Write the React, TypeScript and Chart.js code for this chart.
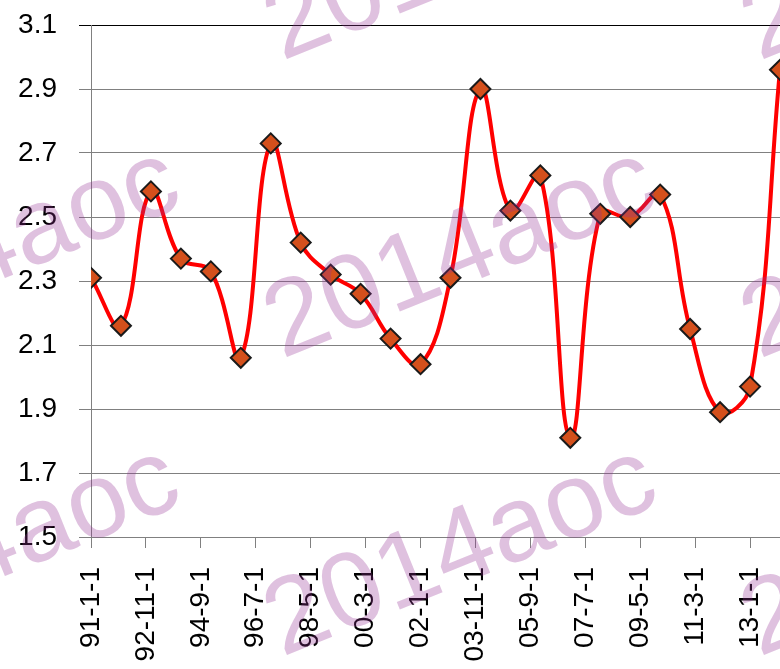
import React, { useEffect, useRef } from 'react';
import { Chart, registerables } from 'chart.js';

Chart.register(...registerables);

// ---- data ----
const years = [1991, 1992, 1993, 1994, 1995, 1996, 1997, 1998, 1999, 2000, 2001, 2002, 2003, 2004, 2005, 2006, 2007, 2008, 2009, 2010, 2011, 2012, 2013, 2014];
const values = [2.31, 2.16, 2.58, 2.37, 2.33, 2.06, 2.73, 2.42, 2.32, 2.26, 2.12, 2.04, 2.31, 2.9, 2.52, 2.63, 1.81, 2.51, 2.5, 2.57, 2.15, 1.89, 1.97, 2.96];
const xTickLabels = ['91-1-1', '92-11-1', '94-9-1', '96-7-1', '98-5-1', '00-3-1', '02-1-1', '03-11-1', '05-9-1', '07-7-1', '09-5-1', '11-3-1', '13-1-1'];
const yTicks = [1.5, 1.7, 1.9, 2.1, 2.3, 2.5, 2.7, 2.9, 3.1];
const watermarkText = '2014aoc';

const BASE_YEAR = 1991;
const FONT = '"Liberation Sans", Arial, sans-serif';

function labelToMonths(label: string): number {
  const [yy, m] = label.split('-').map(Number);
  const year = yy < 50 ? 2000 + yy : 1900 + yy;
  return (year - BASE_YEAR) * 12 + (m - 1);
}

const tickMonths = xTickLabels.map(labelToMonths);
const points = years.map((y, i) => ({ x: (y - BASE_YEAR) * 12, y: values[i] }));

const watermarkPlugin = {
  id: 'watermark',
  afterDraw(chart: any) {
    const ctx = chart.ctx;
    ctx.save();
    ctx.font = `107px ${FONT}`;
    ctx.fillStyle = 'rgba(150, 50, 150, 0.3)';
    ctx.textBaseline = 'alphabetic';
    ctx.textAlign = 'left';
    const cols = [-195, 282, 759];
    const rows = [61, 359, 657];
    for (const r of rows) {
      for (const c of cols) {
        ctx.save();
        ctx.translate(c, r);
        ctx.rotate((-22 * Math.PI) / 180);
        ctx.fillText(watermarkText, 0, 0);
        ctx.restore();
      }
    }
    ctx.restore();
  },
};

export default function App() {
  const ref = useRef<HTMLCanvasElement | null>(null);
  useEffect(() => {
    if (!ref.current) return;
    const chart = new Chart(ref.current, {
      type: 'line',
      data: {
        datasets: [
          {
            data: points,
            borderColor: '#FF0000',
            borderWidth: 4,
            tension: 0.4,
            pointStyle: 'rectRot',
            pointRadius: 10,
            pointBorderWidth: 2,
            pointBackgroundColor: '#D4501C',
            pointBorderColor: '#1a1a1a',
          },
        ],
      },
      options: {
        animation: false,
        responsive: false,
        devicePixelRatio: 1,
        layout: { autoPadding: false, padding: { top: 25, left: 0, right: 0, bottom: 0 } },
        plugins: { legend: { display: false }, tooltip: { enabled: false } },
        scales: {
          x: {
            type: 'linear',
            min: 0,
            max: (years[years.length - 1] - BASE_YEAR) * 12,
            afterBuildTicks: (s: any) => {
              s.ticks = tickMonths.map((v) => ({ value: v }));
            },
            afterFit: (s: any) => {
              s.height = 132;
              s.paddingLeft = 0;
              s.paddingRight = 0;
            },
            grid: { drawOnChartArea: false, drawTicks: true, tickLength: 11, color: '#808080', lineWidth: 1 },
            border: { color: '#808080', width: 1 },
            ticks: {
              autoSkip: false,
              minRotation: 90,
              maxRotation: 90,
              padding: 19,
              color: '#000',
              font: { family: FONT, size: 28 },
              callback: (_v: any, i: number) => xTickLabels[i],
            },
          },
          y: {
            type: 'linear',
            min: yTicks[0],
            max: yTicks[yTicks.length - 1],
            afterBuildTicks: (s: any) => {
              s.ticks = yTicks.map((v) => ({ value: v }));
            },
            afterFit: (s: any) => {
              s.width = 91;
              s.paddingTop = 0;
              s.paddingBottom = 0;
            },
            grid: {
              color: (c: any) => (c.tick && Math.abs(c.tick.value - 3.1) < 1e-6 ? '#000' : '#808080'),
              tickLength: 12,
              lineWidth: 1,
            },
            border: { color: '#808080', width: 1 },
            ticks: {
              padding: 22,
              color: '#000',
              font: { family: FONT, size: 28 },
              callback: (v: any) => Number(v).toFixed(1),
            },
          },
        },
      },
      plugins: [watermarkPlugin],
    });
    return () => chart.destroy();
  }, []);

  return (
    <div style={{ position: 'absolute', left: 0, top: 0, width: 780, height: 669, overflow: 'hidden', background: '#fff' }}>
      <canvas ref={ref} width={780} height={669} style={{ display: 'block' }} />
    </div>
  );
}
